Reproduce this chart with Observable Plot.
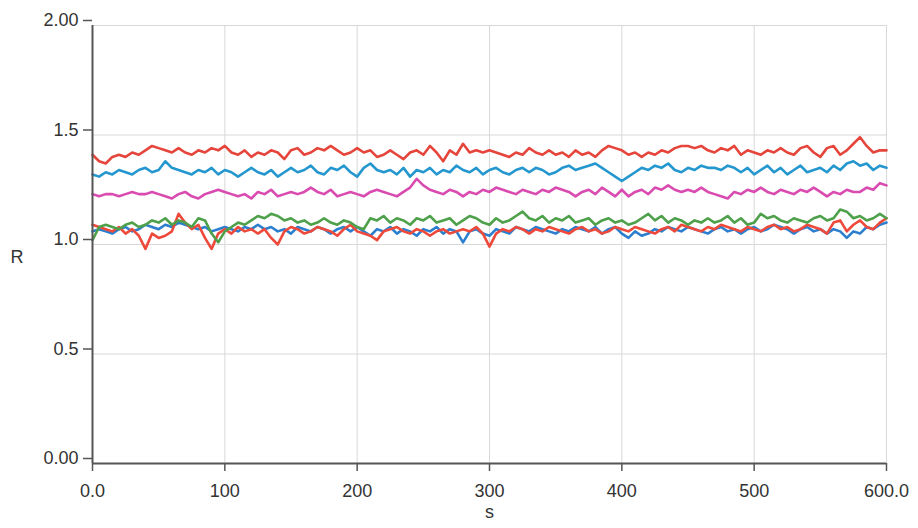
<!DOCTYPE html>
<html>
<head>
<meta charset="utf-8">
<script src="https://cdn.jsdelivr.net/npm/d3@7"></script>
<script src="https://cdn.jsdelivr.net/npm/@observablehq/plot@0.6"></script>
<style>
  html, body { margin: 0; padding: 0; background: #ffffff; }
  #chart { width: 918px; height: 528px; }
  svg { font-family: "Liberation Sans", Arial, sans-serif; }
</style>
</head>
<body>
<div id="chart"></div>
<script>
// sample times (s), one reading every 5 s from 0 to 600
const sampleStep = 5;

const redTop = [
  1.41, 1.38, 1.37, 1.40, 1.41, 1.40, 1.42, 1.41, 1.43, 1.45,
  1.44, 1.43, 1.42, 1.44, 1.42, 1.41, 1.43, 1.42, 1.44, 1.43,
  1.45, 1.42, 1.41, 1.43, 1.40, 1.42, 1.41, 1.43, 1.42, 1.39,
  1.43, 1.44, 1.41, 1.42, 1.44, 1.43, 1.45, 1.43, 1.41, 1.42,
  1.44, 1.42, 1.43, 1.40, 1.41, 1.43, 1.41, 1.39, 1.42, 1.43,
  1.41, 1.45, 1.42, 1.38, 1.43, 1.41, 1.46, 1.42, 1.43, 1.42,
  1.43, 1.42, 1.41, 1.40, 1.42, 1.41, 1.44, 1.42, 1.41, 1.43,
  1.41, 1.42, 1.40, 1.43, 1.41, 1.42, 1.40, 1.43, 1.45, 1.44,
  1.43, 1.41, 1.42, 1.40, 1.42, 1.41, 1.43, 1.42, 1.44, 1.45,
  1.45, 1.44, 1.45, 1.43, 1.42, 1.44, 1.43, 1.45, 1.41, 1.43,
  1.42, 1.41, 1.43, 1.42, 1.44, 1.42, 1.41, 1.44, 1.45, 1.42,
  1.40, 1.44, 1.45, 1.41, 1.43, 1.46, 1.49, 1.45, 1.42, 1.43, 1.43
];
const blueTop = [
  1.32, 1.31, 1.33, 1.32, 1.34, 1.33, 1.32, 1.34, 1.35, 1.33,
  1.34, 1.38, 1.35, 1.34, 1.33, 1.32, 1.34, 1.33, 1.35, 1.32,
  1.34, 1.33, 1.31, 1.33, 1.35, 1.33, 1.32, 1.34, 1.31, 1.33,
  1.35, 1.33, 1.34, 1.36, 1.33, 1.32, 1.35, 1.34, 1.36, 1.33,
  1.31, 1.35, 1.37, 1.34, 1.33, 1.34, 1.32, 1.35, 1.31, 1.34,
  1.33, 1.35, 1.32, 1.34, 1.33, 1.36, 1.34, 1.33, 1.35, 1.32,
  1.34, 1.35, 1.33, 1.32, 1.34, 1.35, 1.33, 1.35, 1.34, 1.32,
  1.33, 1.35, 1.36, 1.34, 1.35, 1.36, 1.37, 1.35, 1.33, 1.31,
  1.29, 1.31, 1.33, 1.35, 1.34, 1.36, 1.35, 1.37, 1.34, 1.33,
  1.35, 1.34, 1.36, 1.35, 1.35, 1.34, 1.36, 1.35, 1.33, 1.35,
  1.32, 1.34, 1.36, 1.33, 1.35, 1.32, 1.34, 1.36, 1.33, 1.34,
  1.35, 1.33, 1.36, 1.34, 1.37, 1.38, 1.36, 1.37, 1.34, 1.36, 1.35
];
const magenta = [
  1.23, 1.22, 1.23, 1.23, 1.22, 1.23, 1.24, 1.23, 1.23, 1.24,
  1.23, 1.22, 1.21, 1.23, 1.24, 1.22, 1.21, 1.23, 1.24, 1.25,
  1.24, 1.23, 1.22, 1.23, 1.21, 1.24, 1.23, 1.25, 1.22, 1.23,
  1.24, 1.23, 1.24, 1.26, 1.24, 1.23, 1.25, 1.22, 1.23, 1.24,
  1.23, 1.22, 1.24, 1.25, 1.24, 1.23, 1.22, 1.24, 1.26, 1.30,
  1.27, 1.25, 1.24, 1.23, 1.25, 1.24, 1.22, 1.24, 1.23, 1.25,
  1.24, 1.26, 1.25, 1.24, 1.23, 1.25, 1.24, 1.23, 1.25, 1.24,
  1.26, 1.25, 1.24, 1.22, 1.24, 1.25, 1.23, 1.26, 1.24, 1.22,
  1.25, 1.22, 1.24, 1.25, 1.23, 1.26, 1.25, 1.27, 1.25, 1.24,
  1.25, 1.24, 1.26, 1.24, 1.23, 1.22, 1.21, 1.24, 1.23, 1.25,
  1.24, 1.26, 1.24, 1.23, 1.25, 1.24, 1.23, 1.25, 1.24, 1.26,
  1.24, 1.22, 1.24, 1.23, 1.25, 1.24, 1.24, 1.26, 1.25, 1.28, 1.27
];
const green = [
  1.02, 1.08, 1.09, 1.08, 1.07, 1.09, 1.10, 1.08, 1.09, 1.11,
  1.10, 1.12, 1.09, 1.11, 1.10, 1.08, 1.12, 1.11, 1.05, 1.01,
  1.06, 1.08, 1.10, 1.09, 1.11, 1.13, 1.12, 1.14, 1.13, 1.11,
  1.12, 1.10, 1.11, 1.09, 1.10, 1.12, 1.10, 1.09, 1.11, 1.10,
  1.08, 1.07, 1.12, 1.11, 1.13, 1.10, 1.12, 1.11, 1.09, 1.12,
  1.11, 1.13, 1.10, 1.11, 1.12, 1.09, 1.11, 1.13, 1.12, 1.10,
  1.09, 1.12, 1.10, 1.11, 1.13, 1.15, 1.12, 1.11, 1.13, 1.10,
  1.12, 1.11, 1.13, 1.10, 1.11, 1.12, 1.09, 1.11, 1.12, 1.10,
  1.11, 1.09, 1.10, 1.12, 1.14, 1.11, 1.13, 1.10, 1.12, 1.11,
  1.09, 1.11, 1.10, 1.12, 1.10, 1.11, 1.13, 1.10, 1.12, 1.09,
  1.10, 1.14, 1.12, 1.13, 1.11, 1.10, 1.12, 1.11, 1.10, 1.12,
  1.13, 1.11, 1.12, 1.16, 1.15, 1.12, 1.13, 1.11, 1.12, 1.14, 1.12
];
const blueLow = [
  1.06, 1.07, 1.06, 1.05, 1.07, 1.08, 1.06, 1.07, 1.09, 1.08,
  1.07, 1.09, 1.08, 1.10, 1.09, 1.08, 1.07, 1.08, 1.06, 1.07,
  1.08, 1.07, 1.06, 1.08, 1.07, 1.09, 1.07, 1.08, 1.06, 1.07,
  1.05, 1.08, 1.07, 1.06, 1.08, 1.07, 1.05, 1.07, 1.08, 1.06,
  1.08, 1.06, 1.04, 1.07, 1.06, 1.08, 1.05, 1.07, 1.06, 1.04,
  1.07, 1.06, 1.08, 1.05, 1.07, 1.06, 1.01, 1.06, 1.07, 1.05,
  1.04, 1.07, 1.06, 1.05, 1.08, 1.07, 1.06, 1.08, 1.07, 1.06,
  1.05, 1.07, 1.06, 1.08, 1.07, 1.06, 1.08, 1.05, 1.07, 1.08,
  1.05, 1.03, 1.06, 1.04, 1.05, 1.07, 1.06, 1.08, 1.07, 1.06,
  1.08, 1.07, 1.06, 1.05, 1.07, 1.08, 1.06, 1.07, 1.05, 1.07,
  1.08, 1.06, 1.07, 1.09, 1.08, 1.07, 1.05, 1.07, 1.08, 1.06,
  1.07, 1.05, 1.07, 1.06, 1.03, 1.06, 1.05, 1.08, 1.07, 1.09, 1.10
];
const redLow = [
  1.09, 1.08, 1.07, 1.06, 1.08, 1.05, 1.07, 1.04, 0.98, 1.05,
  1.03, 1.04, 1.06, 1.14, 1.10, 1.07, 1.09, 1.03, 0.98, 1.05,
  1.07, 1.05, 1.08, 1.06, 1.07, 1.05, 1.07, 1.03, 1.00, 1.06,
  1.08, 1.07, 1.05, 1.06, 1.08, 1.07, 1.06, 1.04, 1.07, 1.09,
  1.06, 1.05, 1.04, 1.02, 1.06, 1.07, 1.08, 1.06, 1.05, 1.07,
  1.06, 1.04, 1.06, 1.07, 1.05, 1.06, 1.07, 1.06, 1.08, 1.05,
  0.99, 1.05, 1.07, 1.06, 1.08, 1.07, 1.05, 1.07, 1.06, 1.08,
  1.07, 1.06, 1.05, 1.07, 1.08, 1.06, 1.07, 1.05, 1.06, 1.08,
  1.07, 1.06, 1.08, 1.07, 1.06, 1.05, 1.07, 1.08, 1.06, 1.09,
  1.08, 1.07, 1.06, 1.08, 1.07, 1.09, 1.08, 1.07, 1.06, 1.08,
  1.07, 1.06, 1.08, 1.09, 1.07, 1.08, 1.06, 1.07, 1.09, 1.08,
  1.07, 1.05, 1.10, 1.11, 1.06, 1.09, 1.11, 1.08, 1.07, 1.10, 1.12
];

const seriesNames = ["redTop", "blueTop", "magenta", "green", "blueLow", "redLow"];
const seriesValues = [redTop, blueTop, magenta, green, blueLow, redLow];
const seriesColors = ["#e5453b", "#2597cf", "#d94bb0", "#4ea14a", "#2c7fcf", "#ee4a3c"];

const xTicks = [0, 100, 200, 300, 400, 500, 600];
const xTickLabels = ["0.0", "100", "200", "300", "400", "500", "600.0"];
const yTicks = [0, 0.5, 1.0, 1.5, 2.0];
const yTickLabels = ["0.00", "0.5", "1.0", "1.5", "2.00"];

const drawOrder = [4, 5, 3, 2, 1, 0];
const rows = [];
for (const k of drawOrder) {
  seriesValues[k].forEach((v, i) => rows.push({ series: seriesNames[k], s: i * sampleStep, r: v }));
}

const chart = Plot.plot({
  width: 918,
  height: 528,
  marginLeft: 92,
  marginRight: 32,
  marginTop: 25,
  marginBottom: 65,
  style: { fontFamily: "'Liberation Sans', Arial, sans-serif", fontSize: "18px", color: "#333", background: "#ffffff" },
  x: { domain: [0, 600], label: null },
  y: { domain: [0, 2], label: null },
  color: { domain: seriesNames, range: seriesColors },
  marks: [
    Plot.gridX(xTicks.slice(1), { stroke: "#d8d8d8", strokeOpacity: 1, strokeWidth: 1 }),
    Plot.gridY(yTicks.slice(1), { stroke: "#d8d8d8", strokeOpacity: 1, strokeWidth: 1 }),
    Plot.line(rows, { x: "s", y: "r", z: "series", stroke: "series", strokeWidth: 2.6, curve: "linear" }),
    Plot.ruleX([0], { stroke: "#555", strokeWidth: 2 }),
    Plot.ruleY([0], { stroke: "#555", strokeWidth: 2 }),
    Plot.axisX(xTicks, { tickSize: 8, tickPadding: 13, stroke: "#555", strokeWidth: 1.5, tickFormat: (d, i) => xTickLabels[i], fontSize: 18, fill: "#333", label: null }),
    Plot.axisY(yTicks, { tickSize: 9, tickPadding: 5, stroke: "#555", strokeWidth: 1.5, tickFormat: (d, i) => yTickLabels[i], fontSize: 18, fill: "#333", dy: -5, label: null }),
    Plot.text(["R"], { frameAnchor: "left", dx: -82, fontSize: 18, fill: "#333", dy: 13 }),
    Plot.text(["s"], { frameAnchor: "bottom", dy: 54, fontSize: 18, fill: "#333" })
  ]
});
document.getElementById("chart").appendChild(chart);
</script>
</body>
</html>
